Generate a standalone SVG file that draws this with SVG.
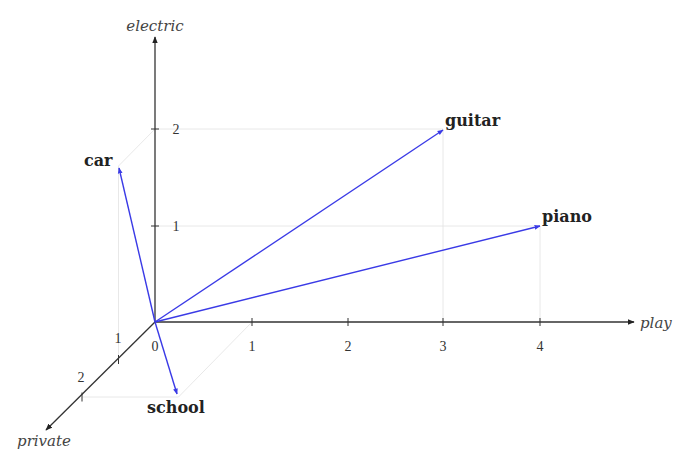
<svg xmlns="http://www.w3.org/2000/svg" width="675" height="450" viewBox="0 0 675 450">
<style>
.axis{stroke:#333;stroke-width:1.3;fill:none}
.tick{stroke:#333;stroke-width:1}
.grid{stroke:#e2e2e2;stroke-width:0.8;fill:none}
.vec{stroke:#3a3ae6;stroke-width:1.4;fill:none}
.num{font-family:"Liberation Serif",serif;font-size:14px;fill:#333;text-anchor:middle}
.ax{font-family:"DejaVu Serif",serif;font-style:italic;font-size:15px;fill:#444}
.lbl{font-family:"DejaVu Serif",serif;font-weight:bold;font-size:16px;fill:#222}
</style>
<defs>
<marker id="ak" viewBox="0 0 10 10" refX="9" refY="5" markerWidth="7" markerHeight="7" orient="auto" markerUnits="userSpaceOnUse"><path d="M0,1 L10,5 L0,9 Z" fill="#222"/></marker>
<marker id="ab" viewBox="0 0 10 10" refX="9" refY="5" markerWidth="6" markerHeight="6" orient="auto" markerUnits="userSpaceOnUse"><path d="M0,1 L10,5 L0,9 Z" fill="#3a3ae6"/></marker>
</defs>
<g id="grid">
<path class="grid" d="M155,129 H443 V322"/>
<path class="grid" d="M155,226 H540 V322"/>
<path class="grid" d="M155,129 L118.5,166 M118.5,359.5 V166"/>
<path class="grid" d="M82,397 H178.5 L252,322"/>
</g>
<g id="axes">
<line class="axis" x1="155" y1="322" x2="634" y2="322" marker-end="url(#ak)"/>
<line class="axis" x1="155" y1="322" x2="155" y2="37" marker-end="url(#ak)"/>
<line class="axis" x1="155" y1="322" x2="46" y2="430" marker-end="url(#ak)"/>
<path class="tick" d="M252,318 V326 M348,318 V326 M443,318 V326 M540,318 V326"/>
<path class="tick" d="M151,226 H159 M151,129 H159"/>
<path class="tick" d="M118.5,355 V364 M82,392.5 V401.5"/>
<text class="num" x="155" y="351">0</text>
<text class="num" x="252" y="351">1</text>
<text class="num" x="348" y="351">2</text>
<text class="num" x="443" y="351">3</text>
<text class="num" x="540" y="351">4</text>
<text class="num" x="176" y="231">1</text>
<text class="num" x="176" y="134">2</text>
<text class="num" x="118" y="343">1</text>
<text class="num" x="81" y="382">2</text>
<text class="ax" x="640" y="328">play</text>
<text class="ax" x="155" y="31" text-anchor="middle">electric</text>
<text class="ax" x="44" y="446" text-anchor="middle">private</text>
</g>
<g id="connectors">
<line class="vec" x1="155" y1="322" x2="443" y2="130" marker-end="url(#ab)"/>
<line class="vec" x1="155" y1="322" x2="540" y2="226" marker-end="url(#ab)"/>
<line class="vec" x1="155" y1="322" x2="119" y2="168" marker-end="url(#ab)"/>
<line class="vec" x1="155" y1="322" x2="177" y2="394" marker-end="url(#ab)"/>
</g>
<g id="guitar"><text class="lbl" x="445" y="126">guitar</text></g>
<g id="piano"><text class="lbl" x="542" y="222">piano</text></g>
<g id="car"><text class="lbl" x="84" y="166">car</text></g>
<g id="school"><text class="lbl" x="147" y="413">school</text></g>
</svg>
